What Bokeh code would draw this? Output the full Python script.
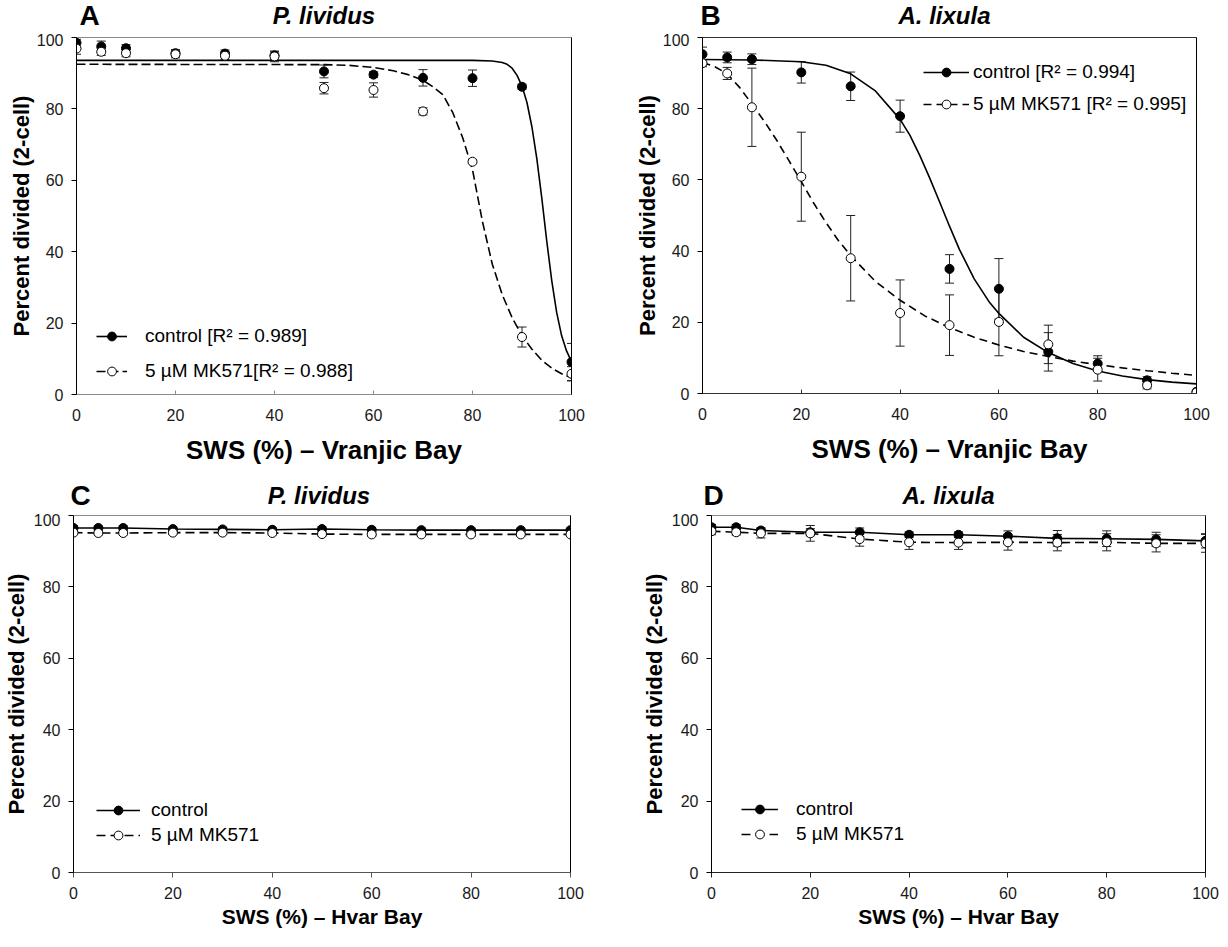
from bokeh.plotting import figure
from bokeh.models import (Range1d, Label, Legend, LegendItem, Whisker, TeeHead,
                          ColumnDataSource, LinearAxis, FixedTicker)
from bokeh.layouts import column, row
from bokeh.embed import file_html
from bokeh.resources import INLINE

FONT = "Liberation Sans"

# ---------------- data ----------------
SWS = [0, 5, 10, 20, 30, 40, 50, 60, 70, 80, 90, 100]
TICKS = [0, 20, 40, 60, 80, 100]
Y_TITLE = "Percent divided (2-cell)"

# Panel A  (P. lividus, Vranjic Bay)
A_ctrl = [98.5, 97.5, 97.0, 95.6, 95.5, 95.0, 90.5, 89.6, 88.7, 88.6, 86.2, 9.1]
A_ctrl_err = [1.0, 1.5, 1.0, 1.0, 1.0, 1.0, 1.8, 0.8, 2.3, 2.3, 0.7, 5.2]
A_mk = [96.9, 96.0, 95.6, 95.3, 94.9, 94.7, 85.8, 85.3, 79.3, 65.2, 16.1, 5.8]
A_mk_err = [1.6, 1.0, 1.0, 1.0, 1.0, 1.5, 1.6, 2.0, 1.0, 0.5, 2.8, 2.0]
A_ctrl_fit_x = [0, 80, 84, 86, 87, 88, 89, 90, 91, 92, 93, 94, 95, 96, 97, 98, 99, 100]
A_ctrl_fit_y = [93.6, 93.6, 93.4, 93.0, 92.5, 91.4, 89.4, 86.4, 81.8, 75.0, 66.0, 55.0, 43.0, 32.0, 23.0, 16.5, 12.2, 9.2]
A_mk_fit_x = [0, 50, 55, 60, 64, 67, 70, 72, 74, 76, 77, 78, 79, 80, 82, 84, 86, 88, 90, 92, 94, 96, 98, 100]
A_mk_fit_y = [92.5, 92.4, 92.2, 91.6, 90.7, 89.6, 88.0, 86.2, 84.0, 79.0, 75.5, 72.0, 67.5, 63.0, 48.5, 36.5, 28.0, 21.5, 16.5, 12.7, 9.6, 7.4, 5.8, 4.7]
A_labels = ["control [R\u00b2 = 0.989]", "5 \u00b5M MK571[R\u00b2 = 0.988]"]

# Panel B  (A. lixula, Vranjic Bay)
B_ctrl = [95.3, 94.4, 93.9, 90.2, 86.3, 77.9, 35.0, 29.4, 11.7, 8.4, 3.7, 0.5]
B_ctrl_err = [2.0, 1.5, 1.5, 3.0, 4.0, 4.5, 4.0, 8.5, 5.4, 2.2, 1.0, 0.3]
B_mk = [92.8, 89.9, 80.4, 60.9, 38.0, 22.6, 19.2, 20.1, 13.8, 6.7, 2.3, 0.3]
B_mk_err = [1.0, 1.7, 11.0, 12.5, 12.0, 9.3, 8.5, 9.5, 5.4, 3.2, 1.0, 0.3]
B_ctrl_fit_x = [0, 10, 20, 25, 30, 35, 40, 42, 44, 46, 48, 50, 52, 55, 58, 60, 65, 70, 75, 80, 85, 90, 95, 100]
B_ctrl_fit_y = [93.8, 93.7, 93.2, 92.2, 89.8, 85.0, 77.0, 72.5, 66.8, 60.5, 53.8, 47.0, 40.5, 32.2, 25.8, 22.5, 15.8, 11.5, 8.4, 6.3, 4.9, 3.9, 3.2, 2.7]
B_mk_fit_x = [0, 2.5, 5, 7.5, 10, 12.5, 15, 17.5, 20, 22.5, 25, 27.5, 30, 35, 40, 45, 50, 55, 60, 65, 70, 75, 80, 85, 90, 95, 100]
B_mk_fit_y = [93.0, 91.8, 89.8, 86.0, 81.3, 76.5, 71.2, 65.4, 59.5, 53.5, 48.0, 43.0, 38.7, 31.5, 26.2, 21.8, 18.5, 15.8, 13.6, 11.8, 10.4, 9.1, 8.1, 7.2, 6.4, 5.7, 5.1]
B_labels = ["control [R\u00b2 = 0.994]", "5 \u00b5M MK571 [R\u00b2 = 0.995]"]

# Panel C  (P. lividus, Hvar Bay)
C_ctrl = [96.5, 96.5, 96.5, 96.2, 96.1, 96.0, 96.2, 96.0, 95.9, 95.9, 95.9, 95.9]
C_ctrl_err = [0.6, 0.6, 0.6, 0.5, 0.5, 0.5, 0.6, 0.5, 0.5, 0.5, 0.5, 0.5]
C_mk = [95.2, 95.1, 95.1, 95.2, 95.2, 95.1, 94.8, 94.7, 94.7, 94.7, 94.7, 94.7]
C_mk_err = [0.5, 0.5, 0.5, 0.5, 0.5, 0.5, 0.5, 0.5, 0.5, 0.5, 0.5, 0.5]
C_labels = ["control", "5 \u00b5M MK571"]

# Panel D  (A. lixula, Hvar Bay)
D_ctrl = [96.7, 96.7, 95.8, 95.3, 95.3, 94.6, 94.6, 94.2, 93.6, 93.5, 93.3, 92.9]
D_ctrl_err = [0.8, 0.8, 0.8, 1.0, 1.2, 0.8, 0.8, 1.5, 2.2, 2.2, 2.0, 2.0]
D_mk = [95.6, 95.3, 95.0, 95.0, 93.4, 92.5, 92.4, 92.5, 92.4, 92.5, 92.2, 92.2]
D_mk_err = [1.0, 0.8, 1.3, 2.2, 2.0, 2.0, 1.9, 2.2, 2.3, 2.4, 2.4, 2.5]
D_labels = ["control", "5 \u00b5M MK571"]


def make_header(letter, species, g):
    h = figure(frame_width=g["fw"], frame_height=g["hh"],
               x_range=Range1d(0, 100), y_range=Range1d(0, g["hh"]),
               min_border_left=g["bl"], min_border_right=g["br"],
               min_border_top=0, min_border_bottom=0,
               x_axis_type=None, y_axis_type=None,
               output_backend="svg", toolbar_location=None)
    h.outline_line_color = None
    h.xgrid.visible = False
    h.ygrid.visible = False
    yc = g["title_y"]
    h.add_layout(Label(x=0, y=yc, x_offset=g["lx"], text=letter, text_color="black",
                       text_font=FONT, text_font_style="bold", text_font_size="28px",
                       text_align="left", text_baseline="middle"))
    h.add_layout(Label(x=50, y=yc, text=species, text_font=FONT, text_color="black",
                       text_font_style="bold italic", text_font_size="24px",
                       text_align="center", text_baseline="middle"))
    return h


def make_panel(xlabel, ctrl, ctrl_err, mk, mk_err,
               ctrl_lx, ctrl_ly, mk_lx, mk_ly, labels, g):
    p = figure(frame_width=g["fw"], frame_height=g["fh"],
               x_range=Range1d(0, 100), y_range=Range1d(0, 100),
               min_border_left=g["bl"], min_border_right=g["br"],
               min_border_top=g["bt"], min_border_bottom=g["bb"],
               output_backend="svg", toolbar_location=None)
    p.xgrid.visible = False
    p.ygrid.visible = False
    p.outline_line_color = g["top_col"]
    p.outline_line_width = 1

    for ax in (p.xaxis[0], p.yaxis[0]):
        ax.ticker = FixedTicker(ticks=TICKS)
        ax.minor_tick_line_color = None
        ax.major_label_text_font = FONT
        ax.major_label_text_font_size = "16px"
        ax.major_label_text_color = "#1a1a1a"
        ax.major_tick_line_width = 1
        ax.axis_label_text_font = FONT
        ax.axis_label_text_font_style = "bold"
        ax.axis_label_text_color = "black"
    p.yaxis.axis_label = Y_TITLE
    p.yaxis.axis_label_text_font_size = "22px"
    p.yaxis.axis_label_standoff = g["ys"]
    p.yaxis.axis_line_color = "black"
    p.yaxis.major_tick_line_color = "black"
    p.yaxis.major_tick_out = 5
    p.yaxis.major_tick_in = 0
    p.yaxis.major_label_standoff = 8
    p.xaxis.axis_label = xlabel
    p.xaxis.axis_label_text_font_size = g["xfs"]
    p.xaxis.axis_label_standoff = g["xs"]
    p.xaxis.axis_line_color = g["bot_col"]
    p.xaxis.major_tick_line_color = g["bot_col"]
    p.xaxis.major_tick_out = g["xt_out"]
    p.xaxis.major_tick_in = g["xt_in"]
    p.xaxis.major_label_standoff = 14 - g["xt_out"]

    right = LinearAxis(ticker=FixedTicker(ticks=[]), major_label_text_font_size="0px",
                       axis_line_color="black", major_tick_line_color=None,
                       minor_tick_line_color=None)
    p.add_layout(right, "right")

    # error bars
    for ys, es in ((ctrl, ctrl_err), (mk, mk_err)):
        src = ColumnDataSource(dict(x=SWS, up=[y + e for y, e in zip(ys, es)],
                                    lo=[y - e for y, e in zip(ys, es)]))
        w = Whisker(base="x", upper="up", lower="lo", source=src, dimension="height",
                    line_color="#222222", line_width=1, level="underlay",
                    upper_head=TeeHead(size=9, line_color="#222222", line_width=1),
                    lower_head=TeeHead(size=9, line_color="#222222", line_width=1))
        p.add_layout(w)

    l1 = p.line(ctrl_lx, ctrl_ly, line_color="black", line_width=1.6)
    l2 = p.line(mk_lx, mk_ly, line_color="black", line_width=1.6, line_dash=g["dash"])
    s1 = p.scatter(SWS, ctrl, marker="circle", size=9, fill_color="black", line_color="black")
    s2 = p.scatter(SWS, mk, marker="circle", size=9, fill_color="white", line_color="black",
                   line_width=1)

    leg = Legend(items=[LegendItem(label=labels[0], renderers=[l1, s1]),
                        LegendItem(label=labels[1], renderers=[l2, s2])],
                 location=g["leg_loc"], glyph_width=g["gw"], glyph_height=22,
                 label_height=22, label_standoff=g["ls"], spacing=g["sp"],
                 padding=0, margin=0, background_fill_alpha=0, border_line_alpha=0,
                 label_text_font=FONT, label_text_font_size="19px",
                 label_text_color="black")
    p.add_layout(leg)
    return p


gA = dict(fw=495, fh=357, bl=76, br=60, bt=2, bb=80, hh=33, title_y=18,
          top_col="#8a8a8a", bot_col="#8a8a8a", xt_out=0, xt_in=4, dash="9 4",
          leg_loc=(20, 12), gw=31, ls=18, sp=13, lx=3, xs=11, ys=0, xfs="26px")
gB = dict(fw=494, fh=356, bl=66, br=20, bt=4, bb=79, hh=33, title_y=18,
          top_col="#333333", bot_col="#333333", xt_out=0, xt_in=4, dash="8 5",
          leg_loc=(221, 278), gw=46, ls=4, sp=10, lx=3, xs=11, ys=0, xfs="26px")
gC = dict(fw=497, fh=357, bl=70, br=68, bt=2, bb=59, hh=41, title_y=18.5,
          top_col="#8a8a8a", bot_col="#555555", xt_out=5, xt_in=0, dash="9 5",
          leg_loc=(23, 26), gw=44, ls=11, sp=3, lx=0, xs=3, ys=2, xfs="21px")
gD = dict(fw=494, fh=357, bl=66, br=17, bt=2, bb=59, hh=41, title_y=18.5,
          top_col="#8a8a8a", bot_col="#222222", xt_out=5, xt_in=0, dash="9 5",
          leg_loc=(30, 27), gw=37, ls=18, sp=3, lx=2, xs=3, ys=2, xfs="21px")

hA = make_header("A", "P. lividus", gA)
hB = make_header("B", "A. lixula", gB)
hC = make_header("C", "P. lividus", gC)
hD = make_header("D", "A. lixula", gD)

pA = make_panel("SWS (%) \u2013 Vranjic Bay", A_ctrl, A_ctrl_err, A_mk, A_mk_err,
                A_ctrl_fit_x, A_ctrl_fit_y, A_mk_fit_x, A_mk_fit_y, A_labels, gA)
pB = make_panel("SWS (%) \u2013 Vranjic Bay", B_ctrl, B_ctrl_err, B_mk, B_mk_err,
                B_ctrl_fit_x, B_ctrl_fit_y, B_mk_fit_x, B_mk_fit_y, B_labels, gB)
pC = make_panel("SWS (%) \u2013 Hvar Bay", C_ctrl, C_ctrl_err, C_mk, C_mk_err,
                SWS, C_ctrl, SWS, C_mk, C_labels, gC)
pD = make_panel("SWS (%) \u2013 Hvar Bay", D_ctrl, D_ctrl_err, D_mk, D_mk_err,
                SWS, D_ctrl, SWS, D_mk, D_labels, gD)

layout = column(row(hA, hB), row(pA, pB), row(hC, hD), row(pC, pD))
open("out.html", "w").write(file_html(layout, INLINE))
